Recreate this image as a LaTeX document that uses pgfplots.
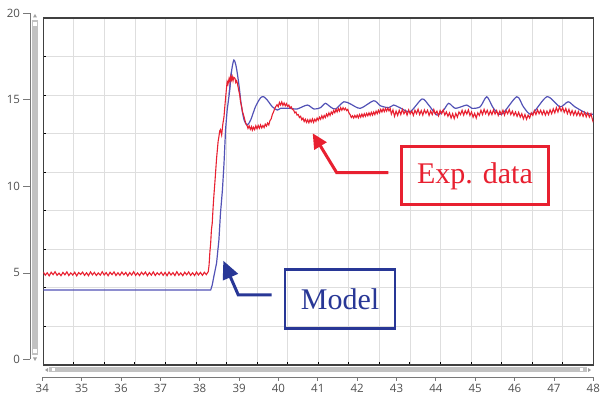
\documentclass[border=0pt]{standalone}
\usepackage{pgfplots}
\pgfplotsset{compat=1.18}
\usepackage{fontspec}
\setmainfont{Liberation Serif}
\newfontfamily\tickfont{Open Sans}
\usetikzlibrary{arrows.meta}
\definecolor{expred}{RGB}{232,32,48}
\definecolor{modelblue}{RGB}{82,82,182}
\definecolor{boxblue}{RGB}{40,55,150}
\definecolor{gridgray}{RGB}{222,222,222}
\definecolor{framegray}{RGB}{64,64,64}
\definecolor{axgray}{RGB}{120,120,120}
\definecolor{sbgray}{RGB}{194,194,194}
\definecolor{lblgray}{RGB}{80,80,80}
\begin{document}
\begin{tikzpicture}[x=1pt,y=1pt]
\path[use as bounding box] (0,0) rectangle (600,399);
% scrollbars (decoration)
\fill[sbgray] (32,44) rectangle (38,379);
\fill[white] (33.3,373) rectangle (36.7,376.5);
\fill[white] (33.3,46) rectangle (36.7,49.5);
\fill[axgray!70] (33,381.5) -- (37,381.5) -- (35,385) -- cycle;
\fill[axgray!70] (33,41.5) -- (37,41.5) -- (35,38) -- cycle;
\fill[sbgray] (49,26.5) rectangle (587,31.5);
\fill[white] (51.7,27.5) rectangle (55,30.5);
\fill[white] (580,27.5) rectangle (583.3,30.5);
\fill[axgray!70] (48,27) -- (48,31) -- (45,29) -- cycle;
\fill[axgray!70] (588,27) -- (588,31) -- (591,29) -- cycle;

\begin{axis}[at={(43.3pt,34pt)}, anchor=south west, scale only axis,
  width=550pt, height=347pt,
  xmin=34, xmax=48, ymin=-0.32, ymax=19.73,
  xtick={34.7778,35.5556,36.3333,37.1111,37.8889,38.6667,39.4444,40.2222,41,41.7778,42.5556,43.3333,44.1111,44.8889,45.6667,46.4444,47.2222},
  ytick={1.9078,4.1356,6.3633,8.5911,10.8189,13.0467,15.2744,17.5022},
  xticklabels={}, yticklabels={},
  grid=major, grid style={gridgray, line width=0.9pt},
  tick align=inside, xtick pos=left, ytick pos=left,
  major tick length=3pt, tick style={black, line width=1pt},
  axis line style={framegray, line width=1.5pt},
  clip=true]
\addplot[modelblue, line width=1.2pt, mark=none] coordinates {
(34,4.01)(38.26,4.01)(38.30,4.3)(38.34,4.78)(38.41,5.56)(38.47,6.90)(38.51,8.45)(38.56,9.80)(38.60,11.33)(38.64,13.30)(38.68,14.4)(38.73,15.28)(38.79,16.63)};
\addplot[modelblue, line width=1.2pt, mark=none, smooth, tension=0.45] coordinates {
(38.73,15.28)(38.79,16.63)(38.85,17.30)(38.91,16.92)(38.98,15.86)(39.04,14.70)(39.11,13.84)(39.19,13.55)(39.28,13.84)(39.40,14.60)(39.53,15.12)(39.61,15.18)(39.70,14.99)(39.83,14.60)(39.96,14.41)(40.04,14.51)(40.29,14.51)(40.46,14.47)(40.72,14.70)(40.89,14.47)(41.06,14.55)(41.18,14.80)(41.31,14.59)(41.44,14.47)(41.65,14.89)(41.82,14.76)(42.07,14.51)(42.41,14.95)(42.58,14.66)(42.79,14.55)(42.92,14.70)(43.09,14.53)(43.34,14.32)(43.64,15.05)(43.81,14.70)(44.02,14.12)(44.19,14.41)(44.32,14.80)(44.49,14.51)(44.78,14.70)(44.91,14.51)(45.12,14.60)(45.29,15.18)(45.46,14.51)(45.67,14.17)(46.05,15.18)(46.22,14.60)(46.43,14.17)(46.82,15.18)(47.15,14.60)(47.36,14.89)(47.53,14.60)(47.83,14.22)(48.00,14.17)};
\addplot[expred, line width=1.1pt, mark=none] coordinates {
(34.00,5.05)(34.05,4.87)(34.10,5.01)(34.15,4.83)(34.20,5.04)(34.25,4.90)(34.30,5.07)(34.35,4.86)(34.40,4.99)(34.45,4.84)
(34.50,5.03)(34.55,4.89)(34.60,5.06)(34.65,4.85)(34.70,5.00)(34.75,4.88)(34.80,5.04)(34.85,4.83)(34.90,5.02)(34.95,4.91)
(35.00,5.05)(35.05,4.86)(35.10,5.01)(35.15,4.84)(35.20,5.06)(35.25,4.89)(35.30,5.03)(35.35,4.85)(35.40,5.00)(35.45,4.87)
(35.50,5.07)(35.55,4.88)(35.60,5.02)(35.65,4.84)(35.70,5.04)(35.75,4.90)(35.80,5.06)(35.85,4.85)(35.90,5.01)(35.95,4.86)
(36.00,5.05)(36.05,4.89)(36.10,5.03)(36.15,4.83)(36.20,5.02)(36.25,4.88)(36.30,5.07)(36.35,4.86)(36.40,5.00)(36.45,4.85)
(36.50,5.04)(36.55,4.90)(36.60,5.05)(36.65,4.84)(36.70,5.02)(36.75,4.87)(36.80,5.06)(36.85,4.85)(36.90,5.01)(36.95,4.89)
(37.00,5.04)(37.05,4.86)(37.10,5.03)(37.15,4.84)(37.20,5.05)(37.25,4.88)(37.30,5.02)(37.35,4.85)(37.40,5.07)(37.45,4.87)
(37.50,5.00)(37.55,4.84)(37.60,5.04)(37.65,4.89)(37.70,5.06)(37.75,4.86)(37.80,5.01)(37.85,4.85)(37.90,5.05)(37.95,4.88)
(38.00,5.03)(38.05,4.86)(38.10,5.04)(38.15,4.90)(38.20,5.08)
(38.22,5.46)(38.24,6.2)(38.26,6.71)(38.28,7.5)(38.30,7.87)(38.32,8.7)(38.34,9.40)(38.37,10.3)(38.39,10.95)(38.41,11.6)
(38.43,12.10)(38.45,12.6)(38.47,12.87)(38.49,13.2)(38.51,13.28)(38.54,12.97)(38.57,13.6)(38.60,14.03)(38.62,14.6)(38.64,15.09)
(38.66,15.6)(38.68,16.05)(38.70,15.9)(38.73,16.24)(38.75,16.05)(38.77,16.35)(38.79,16.15)(38.81,16.34)(38.83,16.1)(38.85,16.3)
(38.88,16.24)(38.90,16.0)(38.92,16.1)(38.94,15.96)(38.97,15.6)(39.00,15.28)(39.02,14.9)(39.05,14.6)(39.07,14.32)(39.10,14.1)
(39.13,13.84)(39.16,13.6)(39.19,13.5)(39.21,13.35)(39.24,13.5)(39.27,13.3)(39.30,13.45)(39.32,13.25)(39.35,13.42)(39.38,13.28)
(39.41,13.5)(39.44,13.33)(39.47,13.52)(39.50,13.36)(39.53,13.55)(39.56,13.38)(39.59,13.52)(39.62,13.4)(39.65,13.6)(39.68,13.48)
(39.71,13.66)(39.74,13.55)(39.77,13.8)(39.80,13.9)(39.83,14.15)(39.86,14.3)(39.89,14.5)(39.92,14.62)(39.95,14.72)(39.98,14.6)
(40.01,14.85)(40.04,14.7)(40.07,14.88)(40.10,14.68)(40.13,14.82)(40.16,14.65)(40.19,14.78)(40.22,14.62)(40.25,14.7)(40.28,14.52)
(40.31,14.6)(40.34,14.45)(40.37,14.42)(40.40,14.25)(40.43,14.3)(40.46,14.12)(40.49,14.15)(40.52,13.98)(40.55,14.05)(40.58,13.85)
(40.61,13.95)(40.64,13.75)(40.67,13.88)(40.70,13.7)(40.73,13.85)(40.76,13.68)(40.79,13.86)(40.82,13.72)(40.85,13.9)(40.88,13.7)
(40.91,13.88)(40.94,13.76)(40.97,13.95)(41.00,13.82)(41.03,14.0)(41.06,13.88)(41.09,14.08)(41.12,13.92)(41.15,14.1)(41.18,13.98)
(41.21,14.18)(41.24,14.05)(41.27,14.25)(41.30,14.1)(41.33,14.3)(41.36,14.18)(41.39,14.38)(41.42,14.25)(41.45,14.45)(41.48,14.3)
(41.51,14.5)(41.54,14.35)(41.57,14.55)(41.60,14.4)(41.63,14.55)(41.66,14.42)(41.69,14.52)(41.72,14.38)(41.75,14.45)(41.78,14.25)
(41.81,14.15)(41.84,13.98)(41.87,14.08)(41.90,13.95)(41.93,14.1)(41.96,13.98)(41.99,14.12)(42.02,13.96)(42.05,14.15)(42.08,14.0)
(42.11,14.18)(42.14,14.02)(42.17,14.2)(42.20,14.05)(42.23,14.22)(42.26,14.08)(42.29,14.25)(42.32,14.1)(42.35,14.28)(42.38,14.12)
(42.41,14.3)(42.44,14.15)(42.47,14.35)(42.50,14.2)(42.53,14.4)(42.56,14.25)(42.59,14.45)(42.62,14.3)(42.65,14.48)(42.68,14.32)
(42.71,14.5)(42.74,14.35)(42.77,14.52)(42.80,14.36)(42.83,14.5)
(42.86,14.18)(42.90,14.42)(42.94,14.05)(42.98,14.35)(43.02,14.1)(43.06,14.4)(43.10,14.15)(43.14,14.45)(43.18,14.2)(43.22,14.38)
(43.26,14.12)(43.30,14.42)(43.34,14.18)(43.38,14.36)(43.42,14.1)(43.46,14.4)(43.50,14.2)(43.54,14.46)(43.58,14.15)(43.62,14.38)
(43.66,14.12)(43.70,14.42)(43.74,14.22)(43.78,14.4)(43.82,14.1)(43.86,14.36)(43.90,14.15)(43.94,14.44)(43.98,14.18)(44.02,14.35)
(44.06,14.08)(44.10,14.38)(44.14,14.2)(44.18,14.42)(44.22,14.12)(44.26,14.3)(44.30,14.05)(44.34,14.25)(44.38,13.95)(44.42,14.2)
(44.46,13.92)(44.50,14.22)(44.54,14.0)(44.58,14.3)(44.62,14.15)(44.66,14.4)(44.70,14.12)(44.74,14.38)(44.78,14.18)(44.82,14.42)
(44.86,14.1)(44.90,14.3)(44.94,14.0)(44.98,14.22)(45.02,13.95)(45.06,14.25)(45.10,14.1)(45.14,14.4)(45.18,14.15)(45.22,14.45)
(45.26,14.2)(45.30,14.4)(45.34,14.12)(45.38,14.36)(45.42,14.15)(45.46,14.42)(45.50,14.18)(45.54,14.38)(45.58,14.1)(45.62,14.35)
(45.66,14.15)(45.70,14.4)(45.74,14.12)(45.78,14.38)(45.82,14.2)(45.86,14.44)(45.90,14.15)(45.94,14.35)(45.98,14.1)(46.02,14.3)
(46.06,14.05)(46.10,14.28)(46.14,14.0)(46.18,14.2)(46.22,13.9)(46.26,14.15)(46.30,13.88)(46.34,14.12)(46.38,13.95)(46.42,14.25)
(46.46,14.1)(46.50,14.38)(46.54,14.15)(46.58,14.42)(46.62,14.2)(46.66,14.4)(46.70,14.15)(46.74,14.38)(46.78,14.12)(46.82,14.35)
(46.86,14.15)(46.90,14.42)(46.94,14.2)(46.98,14.48)(47.02,14.25)(47.06,14.55)(47.10,14.3)(47.14,14.6)(47.18,14.35)(47.22,14.55)
(47.26,14.28)(47.30,14.5)(47.34,14.2)(47.38,14.45)(47.42,14.15)(47.46,14.38)(47.50,14.12)(47.54,14.35)(47.58,14.1)(47.62,14.32)
(47.66,14.08)(47.70,14.3)(47.74,14.05)(47.78,14.28)(47.82,14.02)(47.86,14.25)(47.90,14.0)(47.94,14.2)(47.98,13.85)(48.00,13.7)};
\end{axis}

% outer x axis
\begin{axis}[at={(42.3pt,22pt)}, anchor=south west, scale only axis,
  width=551pt, height=10pt, xmin=34, xmax=48, ymin=0, ymax=1,
  axis x line=bottom, axis y line=none,
  axis line style={-, axgray, line width=0.8pt},
  xtick={34,35,...,48}, tick align=outside, major tick length=4pt,
  tick style={axgray, line width=0.8pt},
  /pgf/number format/assume math mode=true,
  xticklabel style={font=\tickfont\fontsize{11.5}{12}\selectfont, text=lblgray}]
\addplot[draw=none] coordinates {(34,0)};
\end{axis}

% outer y axis
\begin{axis}[at={(30pt,39.5pt)}, anchor=south west, scale only axis,
  width=10pt, height=346.2pt, xmin=0, xmax=1, ymin=0, ymax=20,
  axis y line=left, axis x line=none,
  axis line style={-, axgray, line width=0.8pt},
  ytick={0,5,...,20}, tick align=outside, major tick length=6.5pt,
  tick style={axgray, line width=0.8pt},
  /pgf/number format/assume math mode=true,
  yticklabel style={font=\tickfont\fontsize{11.5}{12}\selectfont, text=lblgray}]
\addplot[draw=none] coordinates {(0,0)};
\end{axis}

% annotations
\node[draw=expred, line width=3pt, minimum width=146.6pt, minimum height=58.3pt, inner sep=0pt,
  text=expred, font=\fontsize{30}{34}\selectfont] at (475,223.2) {Exp. data};
\draw[expred, line width=3pt, -{Triangle[length=15pt,width=14pt]}] (388.3,226.3) -- (336.7,226.3) -- (312.7,265.7);
\node[draw=boxblue, line width=2.7pt, minimum width=110pt, minimum height=59pt, inner sep=0pt,
  text=boxblue, font=\fontsize{30}{34}\selectfont] at (340,100.2) {Model};
\draw[boxblue, line width=3pt, -{Triangle[length=18pt,width=16pt]}] (271.7,104) -- (238.3,104) -- (223.3,138.3);
\end{tikzpicture}
\end{document}
